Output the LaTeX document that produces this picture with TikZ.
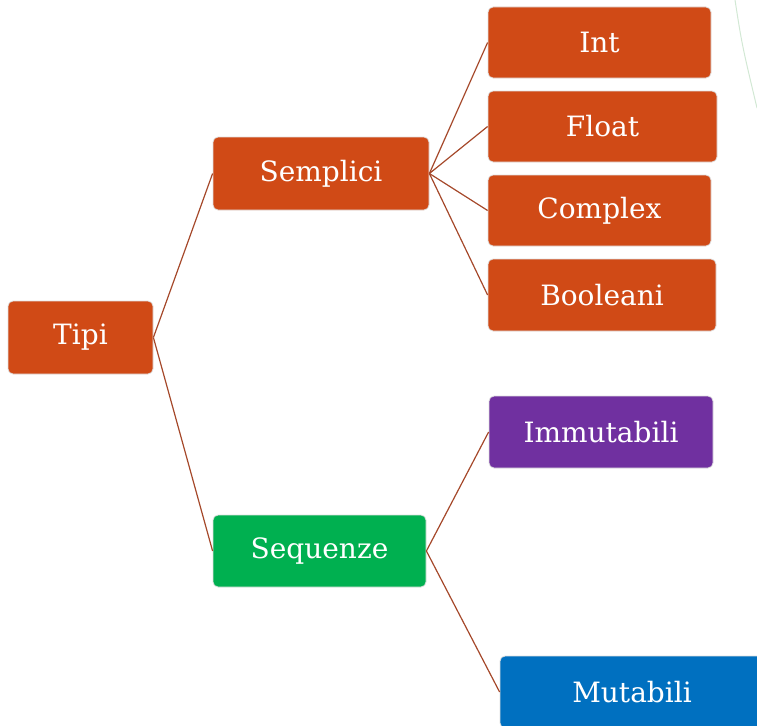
\documentclass[tikz,border=0pt]{standalone}
\usepackage{fontspec}
\setmainfont{DejaVu Serif}
\definecolor{rust}{HTML}{D04A16}
\definecolor{plum}{HTML}{7030A0}
\definecolor{leaf}{HTML}{00B050}
\definecolor{ocean}{HTML}{0070C0}
\definecolor{wire}{HTML}{A5482A}
\definecolor{mist}{HTML}{D2E8D4}
\tikzset{
  box/.style={draw=black!12, line width=0.8pt, rounded corners=5pt, text=white,
    font=\fontsize{28}{32}\selectfont, inner sep=0pt},
  link/.style={draw=wire, line width=1.2pt},
}
\begin{document}
\begin{tikzpicture}[x=1pt, y=-1pt]
  \useasboundingbox (0,0) rectangle (757,725);
  % faint decorative arc at the top right
  \draw[mist, line width=1pt] (735,0) .. controls (742,45) .. (757,108);
  % root and first level
  \node[box, fill=rust, minimum width=145pt, minimum height=73pt] (tipi) at (80.5,337.5) {Tipi};
  \node[box, fill=rust, minimum width=216pt, minimum height=73pt] (semplici) at (321,173.5) {Semplici};
  \node[box, fill=leaf, minimum width=213pt, minimum height=72pt] (sequenze) at (319.5,551) {Sequenze};
  % simple types
  \node[box, fill=rust, minimum width=223pt, minimum height=71pt] (int) at (599.5,42.5) {Int};
  \node[box, fill=rust, minimum width=229pt, minimum height=71pt] (float) at (602.5,126.5) {Float};
  \node[box, fill=rust, minimum width=223pt, minimum height=71pt] (complex) at (599.5,210.5) {Complex};
  \node[box, fill=rust, minimum width=228pt, minimum height=72pt] (booleani) at (602,295) {Booleani};
  % sequence types
  \node[box, fill=plum, minimum width=224pt, minimum height=72pt] (immutabili) at (601,432) {Immutabili};
  \node[box, fill=ocean, minimum width=264pt, minimum height=72pt] (mutabili) at (632,692) {Mutabili};
  % connectors
  \draw[link] (tipi.east) -- (semplici.west);
  \draw[link] (tipi.east) -- (sequenze.west);
  \foreach \leaf in {int, float, complex, booleani}
    \draw[link] (semplici.east) -- (\leaf.west);
  \draw[link] (sequenze.east) -- (immutabili.west);
  \draw[link] (sequenze.east) -- (mutabili.west);
\end{tikzpicture}
\end{document}
